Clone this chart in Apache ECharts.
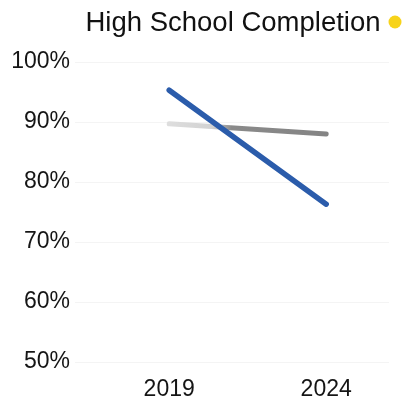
<!DOCTYPE html>
<html>
<head>
<meta charset="utf-8">
<style>html,body{margin:0;padding:0;background:#fff;}#c{width:403px;height:407px;}</style>
<script src="https://cdn.jsdelivr.net/npm/echarts@6/dist/echarts.min.js"></script>
</head>
<body>
<div id="c"></div>
<script>
const title = 'High School Completion';
const years = [2019, 2024];
const blueValues = [95.3, 76.3];
const grayValues = [89.7, 88.0];
const yTicks = [50, 60, 70, 80, 90, 100];

const chart = echarts.init(document.getElementById('c'));
const pairs = v => years.map((y, i) => [y, v[i]]);
chart.setOption({
  animation: false,
  backgroundColor: '#fff',
  textStyle: {fontFamily: 'Liberation Sans, Arial, sans-serif'},
  title: {
    text: title, left: 228, top: 4, textAlign: 'center',
    textStyle: {fontSize: 27.5, fontWeight: 'normal', color: '#111', fontFamily: 'Liberation Sans, Arial, sans-serif'}
  },
  graphic: [{type: 'circle', shape: {cx: 395, cy: 22, r: 6.5}, style: {fill: '#f7d31a'}}],
  grid: {left: 75, right: 14, top: 62, bottom: 45},
  xAxis: {
    type: 'value', min: 2016, max: 2026, interval: 1,
    axisLine: {show: false}, axisTick: {show: false}, splitLine: {show: false},
    axisLabel: {
      fontSize: 23, color: '#151515', margin: 16,
      formatter: v => years.includes(v) ? String(v) : ''
    }
  },
  yAxis: {
    type: 'value', min: yTicks[0], max: yTicks[yTicks.length - 1], interval: 10,
    axisLine: {show: false}, axisTick: {show: false},
    splitLine: {lineStyle: {color: '#f4f4f4', width: 1}},
    axisLabel: {fontSize: 23, color: '#151515', margin: 5, formatter: v => v + '%'}
  },
  series: [
    {
      type: 'line', data: pairs(grayValues), symbol: 'none', z: 2,
      lineStyle: {
        width: 5, cap: 'round',
        color: new echarts.graphic.LinearGradient(0, 0, 1, 0, [
          {offset: 0, color: '#dedede'}, {offset: 0.28, color: '#d2d2d2'},
          {offset: 0.4, color: '#8a8a8a'}, {offset: 1, color: '#848484'}
        ])
      }
    },
    {
      type: 'line', data: pairs(blueValues), symbol: 'none', z: 3,
      lineStyle: {width: 5.5, cap: 'round', color: '#2b5cab'}
    }
  ]
});
</script>
</body>
</html>
